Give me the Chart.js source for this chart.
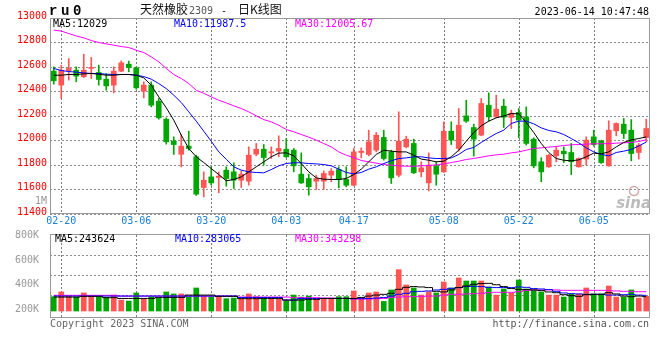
<!DOCTYPE html>
<html><head><meta charset="utf-8">
<script src="https://cdn.jsdelivr.net/npm/chart.js@4.4.1/dist/chart.umd.min.js"></script>
<style>
html,body{margin:0;padding:0;background:#fff;}
#wrap{position:relative;width:660px;height:360px;background:#fff;}
canvas{position:absolute;left:0;top:0;}
</style></head><body>
<div id="wrap"><canvas id="main" width="660" height="360"></canvas><canvas id="vol" width="660" height="360"></canvas></div>
<script>
const dates = ['02-17','02-20','02-21','02-22','02-23','02-24','02-27','02-28','03-01','03-02','03-03','03-06','03-07','03-08','03-09','03-10','03-13','03-14','03-15','03-16','03-17','03-20','03-21','03-22','03-23','03-24','03-27','03-28','03-29','03-30','03-31','04-03','04-04','04-06','04-07','04-10','04-11','04-12','04-13','04-14','04-17','04-18','04-19','04-20','04-21','04-24','04-25','04-26','04-27','04-28','05-04','05-05','05-08','05-09','05-10','05-11','05-12','05-15','05-16','05-17','05-18','05-19','05-22','05-23','05-24','05-25','05-26','05-29','05-30','05-31','06-01','06-02','06-05','06-06','06-07','06-08','06-09','06-12','06-13','06-14'];
const tickDates = ['02-20','03-06','03-20','04-03','04-17','05-08','05-22','06-05'];

const open = [12566,12452,12571,12574,12520,12588,12555,12501,12452,12566,
 12623,12593,12403,12452,12321,12174,11995,11888,11954,11867,
 11616,11703,11698,11758,11744,11676,11668,11888,11929,11899,
 11913,11929,11921,11725,11690,11668,11668,11717,11763,11682,
 11635,11902,11886,11921,12025,11907,11717,11948,11976,11744,
 11654,11793,11744,12076,11935,12201,12106,12044,12288,12193,
 12280,12188,12229,12193,12011,11826,11785,11875,11913,11902,
 11785,11848,12030,11995,11793,12079,12133,12084,11902,12024];
const high = [12601,12615,12669,12601,12705,12678,12615,12547,12601,12650,
 12648,12601,12479,12479,12343,12185,12030,12049,12076,11880,
 11744,11785,11744,11785,11818,11752,11948,11976,11967,11948,
 12038,12016,11935,11899,11725,11717,11752,11771,11785,11785,
 11935,11940,12084,12065,12084,11921,12234,12035,12011,11826,
 11899,11826,12152,12152,12261,12329,12133,12343,12389,12370,
 12337,12248,12261,12275,12022,11859,11886,11948,11948,11976,
 11859,12030,12084,12003,12161,12144,12180,12171,11976,12174];
const low = [12460,12343,12493,12479,12514,12506,12452,12411,12389,12561,
 12561,12419,12348,12275,12174,11970,11886,11785,11921,11551,
 11540,11635,11573,11627,11608,11616,11635,11875,11799,11853,
 11867,11861,11744,11649,11554,11600,11600,11663,11614,11622,
 11630,11859,11875,11907,11840,11649,11703,11940,11731,11703,
 11589,11635,11739,11967,11913,12147,11872,12038,12158,12185,
 12106,12098,12022,11962,11777,11663,11780,11826,11820,11722,
 11782,11799,11954,11812,11790,12038,12016,11834,11848,11989];
const close = [12487,12574,12588,12525,12574,12596,12498,12446,12566,12634,
 12596,12430,12452,12288,12185,11989,11967,11954,11935,11562,
 11676,11654,11709,11690,11676,11725,11880,11929,11861,11908,
 11935,11867,11793,11654,11622,11690,11731,11750,11682,11635,
 11907,11913,11989,12044,11853,11695,11995,12011,11736,11777,
 11799,11725,12076,12003,12125,12158,12011,12302,12193,12256,
 12190,12223,12166,11976,11793,11744,11880,11921,11891,11826,
 11853,12003,11967,11820,12084,12139,12057,11894,11962,12098];

const ma5 = [12533,12533,12539,12539,12544,12547,12541,12533,12533,12539,
 12539,12533,12511,12452,12356,12267,12166,12044,11935,11867,
 11820,11771,11722,11671,11682,11703,11744,11785,11826,11867,
 11897,11899,11875,11812,11744,11695,11684,11682,11682,11690,
 11722,11766,11826,11886,11921,11913,11907,11907,11880,11848,
 11839,11826,11831,11867,11921,11994,12065,12120,12158,12185,
 12200,12220,12218,12147,12065,11976,11902,11853,11839,11834,
 11842,11867,11897,11891,11907,11948,11984,12005,12016,12029];
const ma10 = [12588,12571,12563,12558,12552,12547,12547,12541,12539,12539,
 12539,12533,12522,12501,12465,12424,12370,12310,12234,12158,
 12076,11994,11907,11847,11785,11758,11744,11739,11736,11763,
 11793,11812,11818,11818,11812,11809,11804,11793,11766,11739,
 11728,11739,11766,11785,11812,11834,11853,11858,11867,11867,
 11858,11853,11853,11858,11886,11927,11943,11984,12022,12057,
 12085,12139,12158,12158,12136,12103,12082,12071,12049,12016,
 11981,11940,11907,11886,11875,11902,11913,11927,11955,11987.5];
const ma30 = [12901,12893,12873,12854,12838,12816,12800,12789,12778,12767,
 12759,12737,12718,12683,12642,12588,12539,12506,12465,12410,
 12385,12356,12329,12307,12283,12261,12234,12201,12171,12152,
 12125,12090,12071,12049,12027,12003,11975,11948,11907,11880,
 11860,11837,11826,11815,11804,11799,11793,11790,11790,11793,
 11796,11801,11809,11820,11831,11845,11853,11864,11875,11883,
 11888,11899,11907,11921,11935,11940,11946,11951,11959,11965,
 11967,11970,11973,11973,11975,11978,11981,11984,11992,12005.67];

// volume in thousands
const volumeK = [305,343,310,302,335,310,305,299,318,278,
 270,335,289,305,294,343,327,327,305,375,
 305,302,305,289,294,289,327,305,297,294,
 284,270,318,302,310,284,284,284,305,305,
 351,297,335,343,267,359,522,399,375,318,
 345,335,423,375,455,431,431,431,383,318,
 367,335,439,367,359,343,318,318,302,327,
 327,375,327,327,391,302,302,359,294,308];
const volMa5K = [302,302,302,302,308,308,308,297,297,291,
 291,291,291,291,299,299,299,299,318,318,
 318,318,308,308,308,289,289,289,291,291,
 291,278,278,278,284,284,291,291,291,291,
 291,299,310,318,324,332,364,380,386,383,
 378,348,343,359,378,391,404,410,412,401,
 386,370,364,362,359,354,343,337,321,313,
 308,321,324,324,337,327,310,305,310,305];
const volMa10K = [310,310,310,310,310,310,310,310,310,310,
 310,310,310,310,310,310,310,310,310,310,
 310,310,310,310,310,299,299,299,299,299,
 299,278,278,291,291,291,291,291,291,291,
 289,289,291,294,299,310,324,332,345,348,
 351,359,364,372,378,386,388,386,380,378,
 378,378,383,380,370,367,362,348,335,329,
 327,324,324,324,318,318,321,324,318,316];
const volMa30K = [316,316,316,316,316,316,316,316,316,310,
 310,310,310,310,310,310,310,310,310,310,
 310,310,310,310,310,302,302,302,302,302,
 302,302,297,297,297,297,294,294,291,291,
 286,286,286,289,291,299,302,305,305,308,
 310,310,318,324,324,327,329,332,337,340,
 340,340,345,356,359,359,359,359,356,356,
 356,356,356,356,354,351,348,348,345,345];

const priceTicks = [11400,11600,11800,12000,12200,12400,12600,12800,13000];
const volTickValues = [200,400,600,800];
const volTickLabels = ['200K','400K','600K','800K'];
const maLabels = ['MA5:12029','MA10:11987.5','MA30:12005.67'];
const volMaLabels = ['MA5:243624','MA10:283065','MA30:343298'];

const FONT = "'DejaVu Sans Mono', monospace";
const UP = '#ff5555', DOWN = '#00a600';
const GRID = '#8c8c8c';
const VGRID = '#7a7a7a';
const colors = close.map((c, i) => c >= open[i] ? UP : DOWN);
const showSet = new Set(tickDates);

function txt(ctx, s, x, y, color, font, align) {
  ctx.font = font; ctx.fillStyle = color; ctx.textAlign = align || 'left';
  ctx.textBaseline = 'alphabetic'; ctx.fillText(s, x, y);
}

// vertical dotted grid lines at the labelled dates, placed by the x scale
function drawDateGrid(chart) {
  const ctx = chart.ctx, a = chart.chartArea, xs = chart.scales.x;
  ctx.save();
  ctx.strokeStyle = VGRID; ctx.lineWidth = 1; ctx.setLineDash([2, 2]);
  tickDates.forEach(d => {
    const idx = dates.indexOf(d);
    const x = Math.round(xs.getPixelForValue(idx)) + 0.5;
    ctx.beginPath(); ctx.moveTo(x, a.top); ctx.lineTo(x, a.bottom); ctx.stroke();
  });
  ctx.restore();
}

const mainDeco = {
  id: 'mainDeco',
  beforeDatasetsDraw(chart) { drawDateGrid(chart); },
  afterDraw(chart) {
    const ctx = chart.ctx, a = chart.chartArea;
    ctx.save();
    ctx.strokeStyle = '#999'; ctx.lineWidth = 1;
    ctx.strokeRect(Math.round(a.left) + 0.5, Math.round(a.top) + 0.5, Math.round(a.right - a.left) - 1, Math.round(a.bottom - a.top) - 1);
    const bf = "bold 14px 'Liberation Mono', monospace";
    txt(ctx, 'r', 49, 15, '#000', bf); txt(ctx, 'u', 61, 15, '#000', bf); txt(ctx, '0', 73, 15, '#000', bf);
    const cjk = "12px 'Noto Sans CJK SC', sans-serif";
    txt(ctx, '天然橡胶', 140, 14, '#111', cjk);
    txt(ctx, '2309', 189, 14, '#555', "10px " + FONT);
    txt(ctx, '-', 221, 14, '#111', "10px " + FONT);
    txt(ctx, '日K线图', 238, 14, '#111', cjk);
    txt(ctx, '2023-06-14 10:47:48', 649, 15, '#000', "10px " + FONT, 'right');
    const lf = "10px " + FONT;
    txt(ctx, maLabels[0], 53, 27, '#000', lf);
    txt(ctx, maLabels[1], 174, 27, '#0000ff', lf);
    txt(ctx, maLabels[2], 295, 27, '#ff00ff', lf);
    txt(ctx, '1M', 47, 204, '#999', lf, 'right');
    ctx.strokeStyle = 'rgba(205,160,160,0.9)'; ctx.lineWidth = 1.5;
    ctx.beginPath(); ctx.arc(634, 191, 4.5, 0, Math.PI * 2); ctx.stroke();
    txt(ctx, 'sina', 651, 208, 'rgba(175,175,175,0.85)', "bold italic 15px 'DejaVu Sans', sans-serif", 'right');
    ctx.restore();
  }
};

const volDeco = {
  id: 'volDeco',
  beforeDatasetsDraw(chart) { drawDateGrid(chart); },
  afterDraw(chart) {
    const ctx = chart.ctx, a = chart.chartArea;
    ctx.save();
    ctx.strokeStyle = '#999'; ctx.lineWidth = 1;
    ctx.strokeRect(Math.round(a.left) + 0.5, Math.round(a.top) - 0.5, Math.round(a.right - a.left) - 1, Math.round(a.bottom - a.top));
    const lf = "10px " + FONT;
    txt(ctx, volMaLabels[0], 55, 242, '#000', lf);
    txt(ctx, volMaLabels[1], 175, 242, '#0000ff', lf);
    txt(ctx, volMaLabels[2], 295, 242, '#ff00ff', lf);
    txt(ctx, 'Copyright 2023 SINA.COM', 50, 327, '#666', lf);
    txt(ctx, 'http://finance.sina.com.cn', 649, 327, '#555', lf, 'right');
    ctx.restore();
  }
};

const lineDs = (data, color, extra) => Object.assign({
  type: 'line', data, borderColor: color, borderWidth: 1, pointRadius: 0, tension: 0, fill: false, order: 0
}, extra || {});

new Chart(document.getElementById('main'), {
  type: 'bar',
  data: {
    labels: dates,
    datasets: [
      lineDs(ma5, '#000000'),
      lineDs(ma10, '#0000ff'),
      lineDs(ma30, '#ff00ff'),
      { type: 'bar', data: open.map((o, i) => [Math.min(o, close[i]), Math.max(o, close[i])]),
        backgroundColor: colors, barThickness: 5, grouped: false, minBarLength: 1, borderWidth: 0, order: 1 },
      { type: 'bar', data: low.map((l, i) => [l, high[i]]),
        backgroundColor: colors, barThickness: 1, grouped: false, borderWidth: 0, order: 2 }
    ]
  },
  options: {
    responsive: false, animation: false, devicePixelRatio: 1, events: [],
    layout: { padding: { left: 0, right: 10, top: 18, bottom: 132 } },
    plugins: { legend: { display: false }, tooltip: { enabled: false } },
    scales: {
      x: {
        type: 'category', offset: true,
        grid: { display: false, drawTicks: false },
        border: { display: false },
        ticks: { autoSkip: false, maxRotation: 0, minRotation: 0, padding: 1, color: '#1a80d8',
          font: { family: FONT, size: 10 },
          callback: (v) => showSet.has(dates[v]) ? dates[v] : '' },
        afterFit: s => { s.height = 14; }
      },
      y: {
        min: 11400, max: 13000,
        afterBuildTicks: s => { s.ticks = priceTicks.map(v => ({ value: v })); },
        grid: { color: GRID, drawTicks: false },
        border: { display: false, dash: [2, 2] },
        ticks: { color: '#ff0000', font: { family: FONT, size: 10 }, padding: 3, labelOffset: -2,
          callback: v => String(v) },
        afterFit: s => { s.width = 50; }
      }
    }
  },
  plugins: [mainDeco]
});

new Chart(document.getElementById('vol'), {
  type: 'bar',
  data: {
    labels: dates,
    datasets: [
      lineDs(volMa5K, '#000000', { stepped: 'middle' }),
      lineDs(volMa10K, '#0000ff', { stepped: 'middle' }),
      lineDs(volMa30K, '#ff00ff', { stepped: 'middle' }),
      { type: 'bar', data: volumeK, backgroundColor: colors, barThickness: 5, base: 190, borderWidth: 0, order: 1 }
    ]
  },
  options: {
    responsive: false, animation: false, devicePixelRatio: 1, events: [],
    layout: { padding: { left: 0, right: 10, top: 235, bottom: 42 } },
    plugins: { legend: { display: false }, tooltip: { enabled: false } },
    scales: {
      x: {
        type: 'category', offset: true,
        grid: { display: false, drawTicks: false },
        border: { display: false },
        ticks: { display: false, autoSkip: false },
        afterFit: s => { s.height = 0; }
      },
      y: {
        min: 134, max: 800,
        afterBuildTicks: s => { s.ticks = volTickValues.map(v => ({ value: v })); },
        grid: { display: false },
        border: { display: false },
        ticks: { color: '#999', font: { family: FONT, size: 10 }, padding: 3,
          callback: (v, i) => volTickLabels[i] },
        afterFit: s => { s.width = 50; }
      },
      yg: {
        position: 'right', min: 0, max: 4.15,
        afterBuildTicks: s => { s.ticks = [1.15, 2.15, 3.15].map(v => ({ value: v })); },
        grid: { color: GRID, drawTicks: false },
        border: { display: false, dash: [2, 2] },
        ticks: { display: false },
        afterFit: s => { s.width = 0; }
      }
    }
  },
  plugins: [volDeco]
});
</script>
</body></html>
